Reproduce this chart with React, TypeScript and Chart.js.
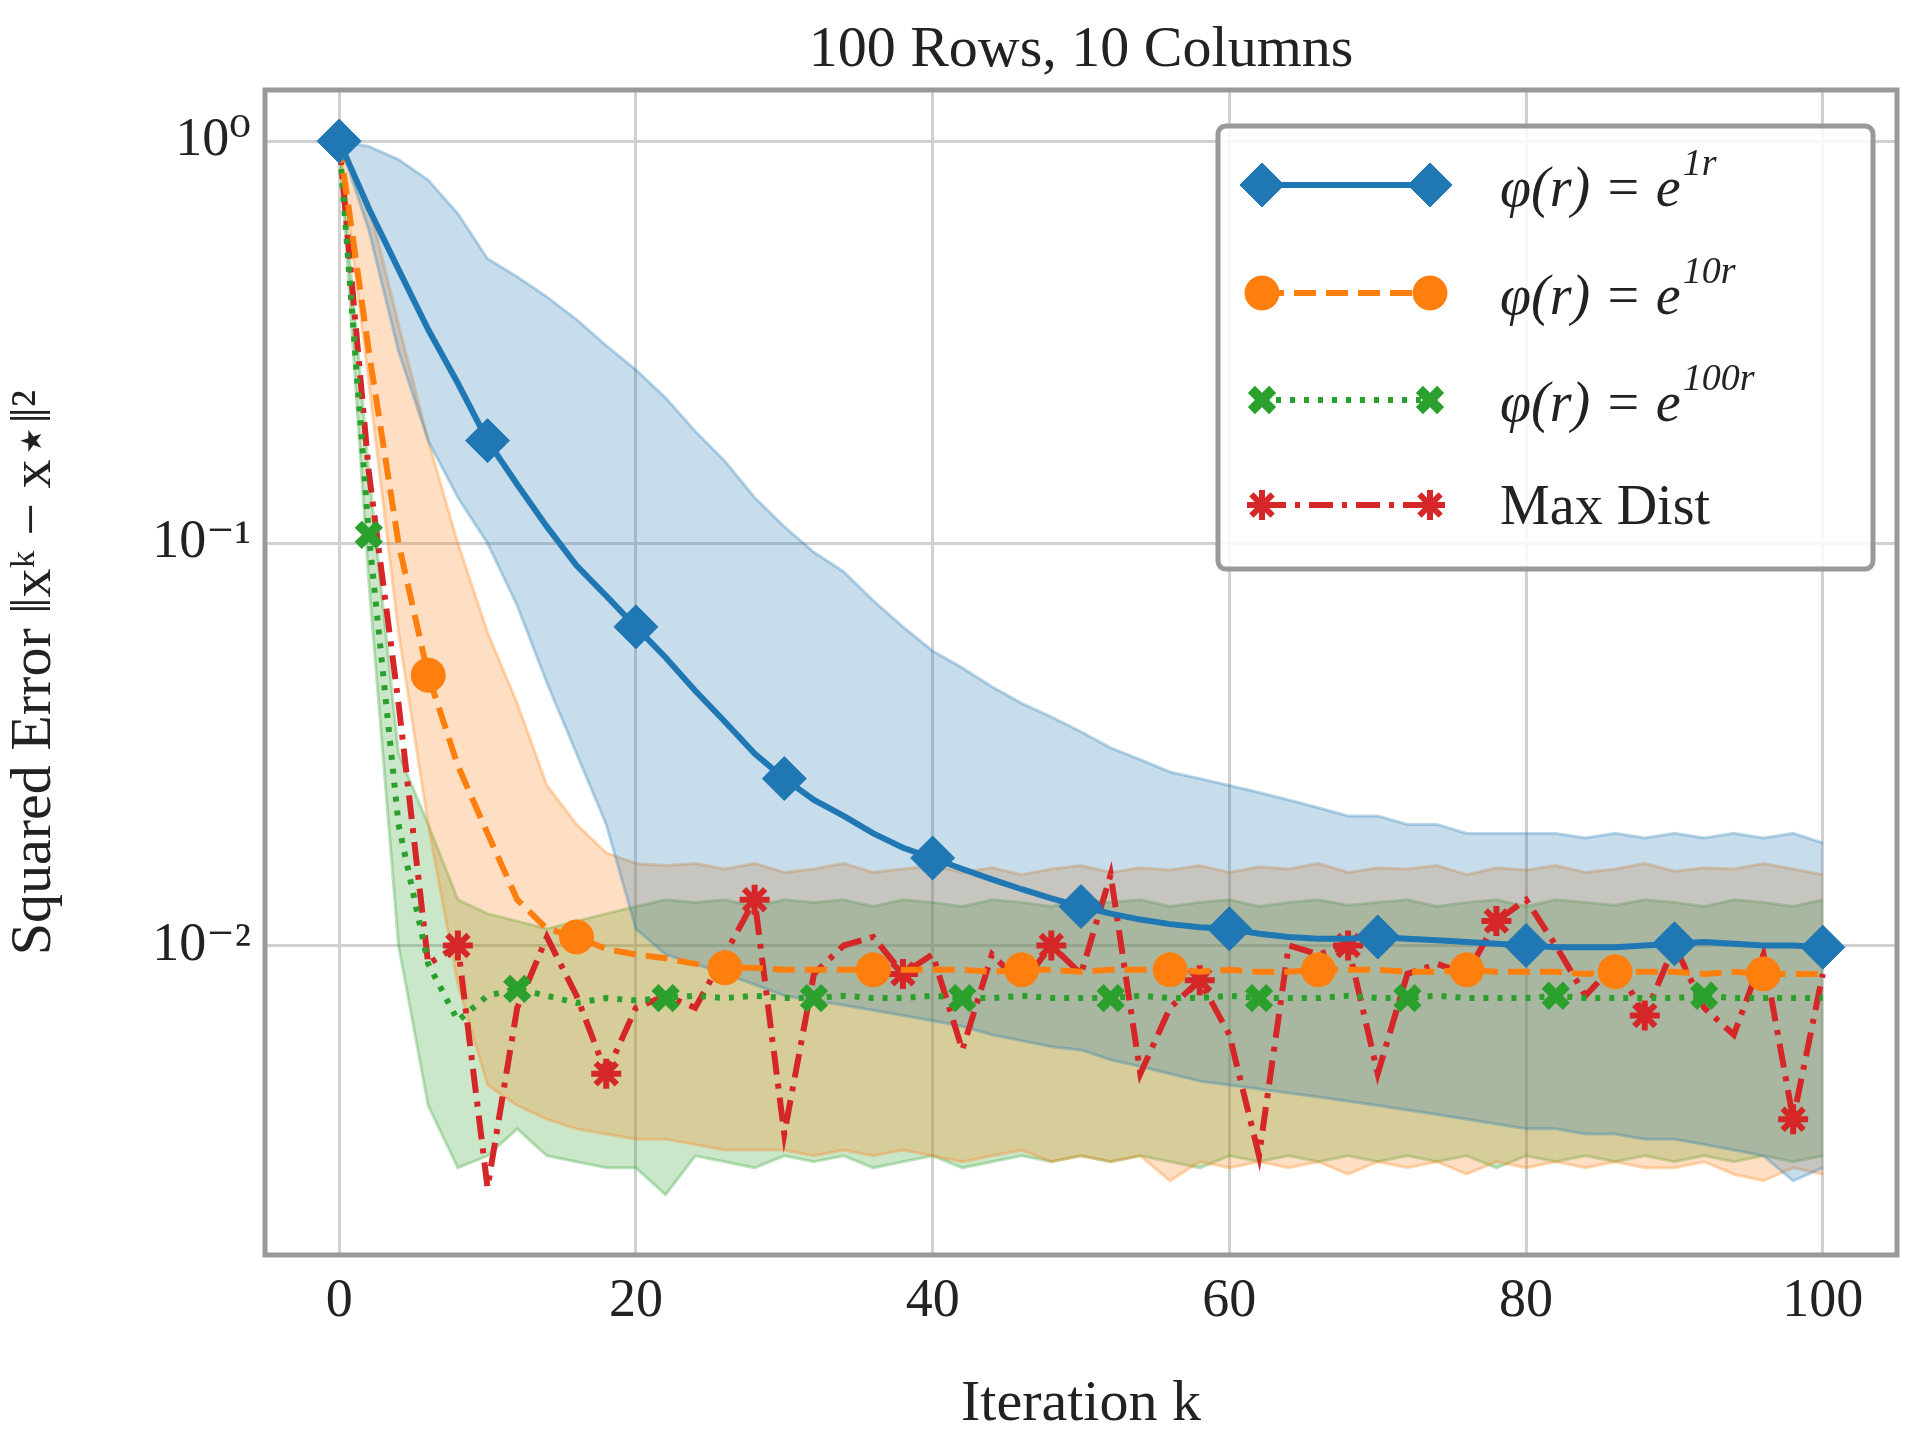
import { useEffect, useRef } from 'react';
import Chart from 'chart.js/auto';
import { drawPoint } from 'chart.js/helpers';

const iters = [0,2,4,6,8,10,12,14,16,18,20,22,24,26,28,30,32,34,36,38,40,42,44,46,48,50,52,54,56,58,60,62,64,66,68,70,72,74,76,78,80,82,84,86,88,90,92,94,96,98,100];

const blueMean = [1,0.68,0.48,0.34,0.25,0.18,0.14,0.11,0.088,0.074,0.062,0.052,0.043,0.036,0.030,0.026,0.023,0.021,0.019,0.0175,0.0165,0.0155,0.0146,0.0138,0.0131,0.0125,0.012,0.0116,0.0113,0.0111,0.011,0.0107,0.0105,0.0104,0.0104,0.0105,0.0104,0.0103,0.0102,0.0101,0.0100,0.0099,0.0099,0.0099,0.0100,0.0101,0.0102,0.0101,0.0100,0.0100,0.0099];
const blueHi = [1,0.97,0.9,0.8,0.66,0.51,0.46,0.41,0.36,0.31,0.27,0.23,0.19,0.16,0.13,0.11,0.095,0.085,0.072,0.062,0.054,0.049,0.044,0.04,0.037,0.034,0.031,0.029,0.027,0.026,0.025,0.024,0.023,0.022,0.021,0.021,0.02,0.02,0.019,0.019,0.019,0.019,0.0185,0.019,0.0185,0.019,0.0185,0.019,0.0185,0.019,0.018];
const blueLo = [1,0.6,0.3,0.18,0.13,0.1,0.07,0.045,0.03,0.02,0.011,0.0095,0.009,0.0085,0.008,0.0075,0.0073,0.0071,0.0069,0.0067,0.0065,0.0063,0.006,0.0058,0.0056,0.0055,0.0052,0.005,0.0048,0.0046,0.0045,0.0044,0.0043,0.0042,0.0041,0.004,0.0039,0.0038,0.0037,0.0036,0.0035,0.0035,0.0034,0.0034,0.0033,0.0033,0.0032,0.0031,0.003,0.0026,0.0028];

const orangeMean = [1,0.3,0.1,0.047,0.028,0.019,0.013,0.011,0.0105,0.0098,0.0095,0.0093,0.009,0.0088,0.0088,0.0087,0.0087,0.0087,0.0087,0.0087,0.0087,0.0087,0.0086,0.0087,0.0087,0.0086,0.0087,0.0087,0.0087,0.0086,0.0087,0.0086,0.0086,0.0087,0.0087,0.0087,0.0086,0.0086,0.0087,0.0086,0.0086,0.0086,0.0085,0.0086,0.0086,0.0086,0.0085,0.0086,0.0085,0.0085,0.0085];
const orangeHi = [1,0.7,0.35,0.18,0.1,0.06,0.04,0.025,0.02,0.017,0.016,0.0158,0.016,0.0155,0.016,0.0152,0.0155,0.016,0.0152,0.0155,0.0158,0.0152,0.0156,0.015,0.0155,0.0158,0.0152,0.0156,0.0154,0.0158,0.0152,0.0157,0.0155,0.016,0.0152,0.0156,0.0155,0.0158,0.015,0.0156,0.0154,0.0158,0.0152,0.0155,0.016,0.0153,0.0156,0.0155,0.016,0.0155,0.015];
const orangeLo = [1,0.25,0.06,0.02,0.008,0.0045,0.004,0.0037,0.0035,0.0034,0.0033,0.0033,0.0032,0.0031,0.0031,0.0031,0.0030,0.0031,0.0030,0.0031,0.0030,0.0029,0.003,0.0031,0.0029,0.003,0.0029,0.003,0.0026,0.0029,0.0028,0.0029,0.0028,0.0029,0.0027,0.0029,0.0028,0.0029,0.0027,0.0029,0.0028,0.0029,0.0028,0.0029,0.0028,0.0028,0.0029,0.0027,0.0026,0.0028,0.0027];

const greenMean = [1,0.105,0.02,0.009,0.0065,0.0075,0.0078,0.0075,0.0072,0.0074,0.0073,0.0074,0.0075,0.0074,0.0075,0.0074,0.0074,0.0075,0.0074,0.0074,0.0075,0.0074,0.0074,0.0075,0.0074,0.0074,0.0074,0.0075,0.0074,0.0074,0.0075,0.0074,0.0074,0.0074,0.0075,0.0074,0.0074,0.0075,0.0074,0.0074,0.0074,0.0075,0.0074,0.0074,0.0074,0.0074,0.0075,0.0074,0.0074,0.0074,0.0074];
const greenHi = [1,0.15,0.03,0.02,0.013,0.012,0.0115,0.011,0.0115,0.012,0.0125,0.013,0.0128,0.013,0.0125,0.013,0.0128,0.013,0.0125,0.013,0.0128,0.0125,0.013,0.0128,0.0125,0.013,0.0128,0.013,0.0125,0.0128,0.013,0.0125,0.0128,0.013,0.0126,0.0128,0.013,0.0125,0.0128,0.013,0.0125,0.013,0.0128,0.0126,0.013,0.0128,0.0125,0.013,0.0128,0.0125,0.013];
const greenLo = [1,0.08,0.01,0.004,0.0028,0.003,0.0035,0.003,0.0029,0.0028,0.0028,0.0024,0.003,0.0029,0.0028,0.003,0.0029,0.003,0.0028,0.0029,0.003,0.0028,0.0029,0.003,0.0029,0.003,0.0029,0.003,0.0029,0.0028,0.003,0.0029,0.003,0.0029,0.003,0.0029,0.003,0.0029,0.003,0.0028,0.003,0.0029,0.003,0.0029,0.003,0.0029,0.003,0.0029,0.003,0.0029,0.003];

const redMean = [1,0.15,0.04,0.009,0.0100,0.0025,0.007,0.0105,0.0075,0.0048,0.007,0.0075,0.007,0.0095,0.013,0.0034,0.0085,0.010,0.0105,0.0085,0.0095,0.0055,0.0095,0.008,0.010,0.0085,0.015,0.0048,0.007,0.0082,0.0060,0.003,0.010,0.0095,0.0100,0.0048,0.0085,0.0090,0.0085,0.0115,0.013,0.010,0.0075,0.0090,0.0067,0.010,0.0070,0.0060,0.0095,0.0037,0.0085];

const legendLabels = ['φ(r) = e', 'φ(r) = e', 'φ(r) = e', 'Max Dist'];
const legendSups = ['1r', '10r', '100r', ''];

const BLUE = '#1f77b4';
const ORANGE = '#ff7f0e';
const GREEN = '#2ca02c';
const RED = '#d62728';
const FONT = '"Liberation Serif", "DejaVu Serif", serif';

const pts = (ys: number[]) => ys.map((y, i) => ({ x: iters[i], y }));
const markEvery = (start: number, r: number) => iters.map(k => (k >= start && (k - start) % 10 === 0 ? r : 0));
const rgba = (hex: string, a: number) => {
  const n = parseInt(hex.slice(1), 16);
  return `rgba(${n >> 16}, ${(n >> 8) & 255}, ${n & 255}, ${a})`;
};

export default function App() {
  const canvasRef = useRef<HTMLCanvasElement>(null);

  useEffect(() => {
    document.body.style.margin = '0';
    if (!canvasRef.current) return;

    const band = (lo: number[], hi: number[], color: string) => [
      { data: pts(lo), borderColor: rgba(color, 0.3), borderWidth: 3, pointRadius: 0, fill: false, order: 5 },
      { data: pts(hi), borderColor: rgba(color, 0.3), borderWidth: 3, pointRadius: 0, backgroundColor: rgba(color, 0.25), fill: '-1', order: 5 },
    ];

    const lines: any[] = [
      { data: pts(blueMean), borderColor: BLUE, backgroundColor: BLUE, borderWidth: 6, pointStyle: 'rectRot', pointRadius: markEvery(0, 22), pointBorderWidth: 1, fill: false, order: 1 },
      { data: pts(orangeMean), borderColor: ORANGE, backgroundColor: ORANGE, borderWidth: 6, borderDash: [22, 10], pointStyle: 'circle', pointRadius: markEvery(6, 17), pointBorderWidth: 1, fill: false, order: 1 },
      { data: pts(greenMean), borderColor: GREEN, backgroundColor: GREEN, borderWidth: 6, borderDash: [5, 9], pointStyle: 'crossRot', pointRadius: markEvery(2, 15), pointBorderWidth: 10, fill: false, order: 1 },
      { data: pts(redMean), borderColor: RED, backgroundColor: RED, borderWidth: 6, borderDash: [24, 9, 5, 9], pointStyle: 'star', pointRadius: markEvery(8, 15), pointBorderWidth: 6, fill: false, order: 1 },
    ];

    const decorate = {
      id: 'decorate',
      afterDraw(chart: any) {
        const { ctx, chartArea: a } = chart;
        ctx.save();
        ctx.strokeStyle = '#999';
        ctx.lineWidth = 5;
        ctx.strokeRect(a.left, a.top, a.right - a.left, a.bottom - a.top);
        ctx.fillStyle = '#222';
        ctx.font = `58px ${FONT}`;
        ctx.textAlign = 'center';
        ctx.textBaseline = 'alphabetic';
        ctx.fillText('100 Rows, 10 Columns', (a.left + a.right) / 2, 66);

        // legend
        const lx = 1218, ly = 126, lw = 655, lh = 443;
        ctx.fillStyle = 'rgba(255,255,255,0.85)';
        ctx.strokeStyle = '#999';
        ctx.lineWidth = 5;
        ctx.beginPath();
        ctx.roundRect(lx, ly, lw, lh, 8);
        ctx.fill();
        ctx.stroke();
        const rows = [185, 293, 400, 505];
        lines.forEach((ds, i) => {
          const y = rows[i];
          const x0 = 1262, x1 = 1430;
          ctx.strokeStyle = ds.borderColor;
          ctx.lineWidth = 6;
          ctx.setLineDash(ds.borderDash || []);
          ctx.beginPath();
          ctx.moveTo(x0, y);
          ctx.lineTo(x1, y);
          ctx.stroke();
          ctx.setLineDash([]);
          const r = Math.max(...ds.pointRadius);
          [x0, x1].forEach(x => {
            ctx.fillStyle = ds.backgroundColor;
            ctx.strokeStyle = ds.borderColor;
            ctx.lineWidth = ds.pointBorderWidth;
            drawPoint(ctx, { pointStyle: ds.pointStyle, radius: r, rotation: 0, borderWidth: ds.pointBorderWidth } as any, x, y);
          });
          ctx.fillStyle = '#222';
          ctx.textAlign = 'left';
          ctx.textBaseline = 'middle';
          ctx.font = `italic 56px ${FONT}`;
          const label = legendLabels[i];
          if (legendSups[i]) {
            ctx.fillText(label, 1500, y + 6);
            const w = ctx.measureText(label).width;
            ctx.font = `italic 38px ${FONT}`;
            ctx.fillText(legendSups[i], 1500 + w + 2, y - 20);
          } else {
            ctx.font = `56px ${FONT}`;
            ctx.fillText(label, 1500, y + 4);
          }
        });
        ctx.restore();
      },
    };

    const sup: Record<string, string> = { '0': '⁰', '-1': '⁻¹', '-2': '⁻²' };

    const chart = new Chart(canvasRef.current, {
      type: 'line',
      data: {
        datasets: [
          ...band(blueLo, blueHi, BLUE),
          ...band(orangeLo, orangeHi, ORANGE),
          ...band(greenLo, greenHi, GREEN),
          ...lines,
        ] as any,
      },
      options: {
        animation: false,
        responsive: false,
        layout: { padding: { top: 90, right: 12, left: 0, bottom: 0 } },
        plugins: { legend: { display: false }, tooltip: { enabled: false }, title: { display: false } },
        scales: {
          x: {
            type: 'linear', min: -5, max: 105,
            afterBuildTicks: (s: any) => { s.ticks = [0, 20, 40, 60, 80, 100].map(v => ({ value: v })); },
            grid: { color: '#d0d0d0', lineWidth: 3, drawTicks: false },
            border: { display: false },
            ticks: { font: { family: FONT, size: 54 }, color: '#222', padding: 14 },
            title: { display: true, text: 'Iteration k', font: { family: FONT, size: 58 }, color: '#222', padding: { top: 0, bottom: 0 } },
            afterFit: (s: any) => { s.height = 185; },
          },
          y: {
            type: 'logarithmic', min: 0.0017, max: 1.34,
            afterBuildTicks: (s: any) => { s.ticks = [1, 0.1, 0.01].map(v => ({ value: v })); },
            grid: { color: '#d0d0d0', lineWidth: 3, drawTicks: false },
            border: { display: false },
            ticks: {
              font: { family: FONT, size: 54 }, color: '#222', padding: 14,
              callback: (v: any) => '10' + sup[String(Math.round(Math.log10(Number(v))))],
            },
            title: { display: true, text: 'Squared Error ‖xᵏ − x⋆‖²', font: { family: FONT, size: 58 }, color: '#222', padding: { top: 0, bottom: 10 } },
            afterFit: (s: any) => { s.width = 265; },
          },
        },
      },
      plugins: [decorate],
    });

    return () => chart.destroy();
  }, []);

  return (
    <div style={{ width: 1920, height: 1440 }}>
      <canvas ref={canvasRef} width={1920} height={1440} />
    </div>
  );
}
